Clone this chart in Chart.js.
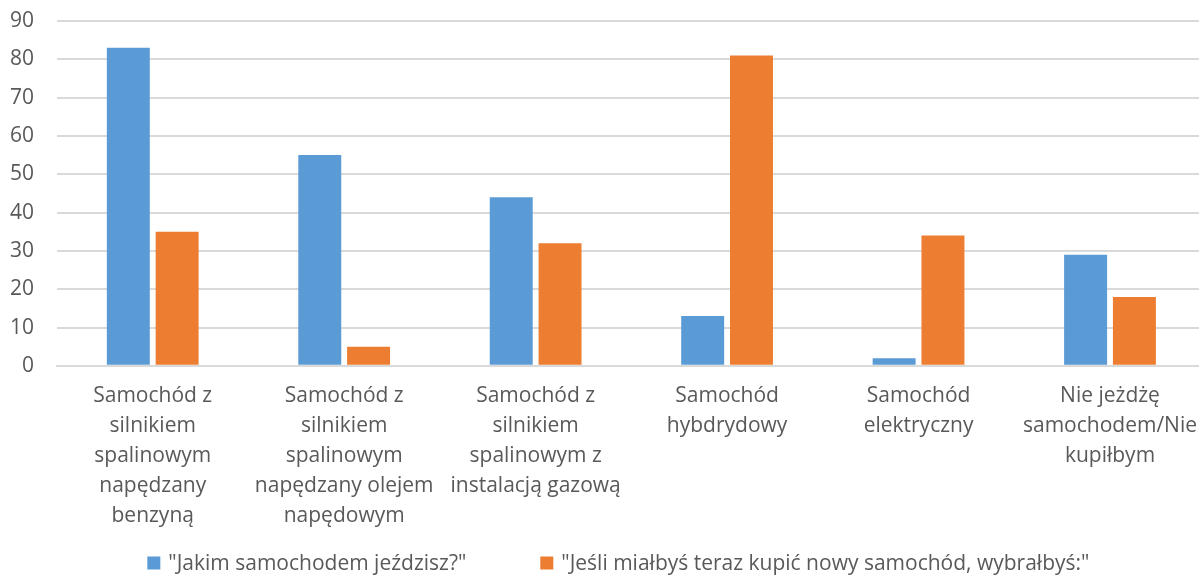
<!DOCTYPE html>
<html>
<head>
<meta charset="utf-8">
<script src="https://cdn.jsdelivr.net/npm/chart.js@4/dist/chart.umd.min.js"></script>
<style>
  html, body { margin: 0; padding: 0; background: #fff; overflow: hidden; }
  #wrap { width: 1212px; height: 578px; }
</style>
</head>
<body>
<div id="wrap"><canvas id="myChart"></canvas></div>
<script>
// categories (already split into lines like in the original)
const categories = [
  ['Samochód z', 'silnikiem', 'spalinowym', 'napędzany', 'benzyną'],
  ['Samochód z', 'silnikiem', 'spalinowym', 'napędzany olejem', 'napędowym'],
  ['Samochód z', 'silnikiem', 'spalinowym z', 'instalacją gazową'],
  ['Samochód', 'hybdrydowy'],
  ['Samochód', 'elektryczny'],
  ['Nie jeżdżę', 'samochodem/Nie', 'kupiłbym']
]
const seriesNames = ['"Jakim samochodem jeździsz?"', '"Jeśli miałbyś teraz kupić nowy samochód, wybrałbyś:"']
const jakimJezdzisz = [83, 55, 44, 13, 2, 29]
const coWybralbys = [35, 5, 32, 81, 34, 18]
const yTicks = [0, 10, 20, 30, 40, 50, 60, 70, 80, 90]

const font = "'Open Sans', 'Noto Sans', sans-serif"
const gray = '#595959'

// legend drawn by hand so the gap between the two items can be wide
// without the built-in legend's padding eating vertical space
const bottomLegend = {
  id: 'bottomLegend',
  afterDraw(chart) {
    let c = chart.ctx
    c.save()
    c.font = '21px ' + font
    c.textBaseline = 'middle'
    let box = 13, gap = 8, between = 74
    let items = chart.data.datasets.map(d => ({ text: d.label, color: d.backgroundColor, w: c.measureText(d.label).width }))
    let total = items.reduce((s, it) => s + box + gap + it.w, 0) + between * (items.length - 1)
    let x = (chart.chartArea.left + chart.chartArea.right) / 2 - 13 - total / 2
    let y = chart.height - 15
    items.forEach(it => {
      c.fillStyle = it.color
      c.fillRect(x, y - box / 2, box, box)
      x += box + gap
      c.fillStyle = gray
      c.fillText(it.text, x, y + 1)
      x += it.w + between
    })
    c.restore()
  }
}

let ctx = document.getElementById('myChart')

let chart = new Chart(ctx, {
  type: 'bar',
  data: {
    labels: categories,
    datasets: [
      {
        label: seriesNames[0],
        data: jakimJezdzisz,
        backgroundColor: '#5b9bd5',
        categoryPercentage: 0.51,
        barPercentage: 0.88
      },
      {
        label: seriesNames[1],
        data: coWybralbys,
        backgroundColor: '#ed7d31',
        categoryPercentage: 0.51,
        barPercentage: 0.88
      }
    ]
  },
  plugins: [bottomLegend],
  options: {
    responsive: true,
    maintainAspectRatio: false,
    animation: false,
    layout: { padding: { left: 0, top: 21, right: 0, bottom: 32 } },
    plugins: {
      legend: { display: false },
      tooltip: { enabled: false }
    },
    scales: {
      x: {
        grid: { display: false, drawTicks: false },
        border: { color: '#d9d9d9', width: 2 },
        ticks: {
          font: { family: font, size: 21, lineHeight: 1.43 },
          color: gray,
          maxRotation: 0,
          autoSkip: false,
          padding: 15
        }
      },
      y: {
        min: 0,
        max: 90,
        afterBuildTicks: axis => { axis.ticks = yTicks.map(v => ({ value: v })) },
        afterFit: axis => {
          axis.width = 57
          axis.paddingTop = 0
          axis.paddingBottom = 0
        },
        grid: { color: '#d9d9d9', lineWidth: 2, drawTicks: false },
        border: { display: false },
        ticks: {
          font: { family: font, size: 21 },
          color: gray,
          padding: 23
        }
      }
    }
  }
})
</script>
</body>
</html>
